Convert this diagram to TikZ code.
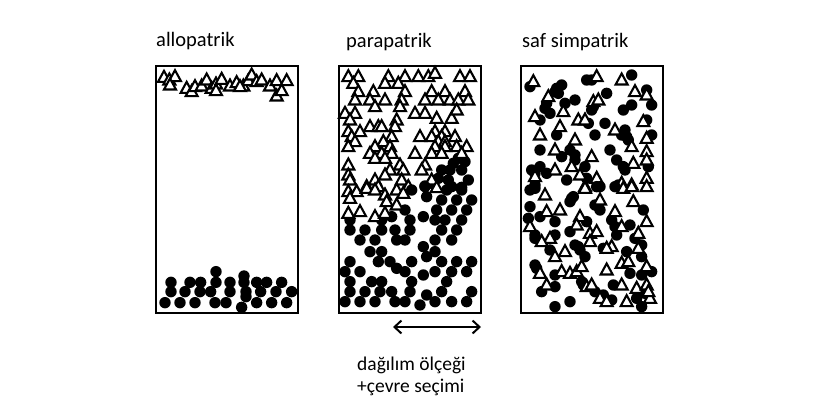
\documentclass[tikz,border=0pt]{standalone}
\usepackage{fontspec}
\setmainfont{Carlito}
\usetikzlibrary{arrows.meta}
\begin{document}
\begin{tikzpicture}[x=1pt, y=-1pt,
        box/.style={rectangle, draw, line width=2pt, minimum width=142pt, minimum height=247pt, inner sep=0pt},
        caption/.style={anchor=base west, inner sep=0pt, font=\fontsize{20.5}{22.5}\selectfont},
        note/.style={anchor=base west, inner sep=0pt, font=\fontsize{19.5}{22.5}\selectfont},
        tri/.style={draw, fill=white, line width=2.1pt, line join=miter},
        dot/.style={fill=black},
        arrow/.style={{Straight Barb[length=7pt,width=13pt]}-{Straight Barb[length=7pt,width=13pt]}, line width=2pt}
    ]
        \useasboundingbox (0,0) rectangle (825,416);

        \node[box] (allo) at (227,189.5) {};
        \node[box] (para) at (410,189.5) {};
        \node[box] (saf) at (592,189.5) {};

        \node[caption] (allo-t) at (156,46) {allopatrik};
        \node[caption] (para-t) at (346,47) {parapatrik};
        \node[caption] (saf-t) at (522,47) {saf simpatrik};

        \coordinate (scale-l) at (393,327);
        \coordinate (scale-r) at (481,327);
        \draw[arrow] (scale-l) -- (scale-r);
        \node[note] (scale-t1) at (357,370) {dağılım ölçeği};
        \node[note] (scale-t2) at (357,392.5) {+çevre seçimi};

        % allopatrik
        \begin{scope}[shift={(140,250)}, x=0.3333pt, y=-0.3333pt]
            \foreach \x/\y in {75/158, 120/158, 165/158, 225/158, 258/158, 305/172, 350/158, 395/158, 440/158,
                93/125, 135/125, 180/125, 212/125, 270/125, 318/125, 362/125, 408/125, 455/125,
                93/97, 150/97, 182/97, 228/97, 270/97, 312/97, 350/97, 380/97, 425/97,
                228/65, 312/78, 318/140}
                \fill[dot] (\x,\y) circle[radius=5.7pt];
        \end{scope}
        \begin{scope}[shift={(140,20)}, x=0.3333pt, y=-0.3333pt]
            \foreach \x/\y in {72/172, 88/180, 105/170, 90/195, 140/205, 155/215, 165/200, 185/198, 200/180,
                215/205, 228/192, 245/178, 270/198, 290/188, 310/198, 325/182, 335/165, 350/185, 365/180,
                390/198, 410/182, 410/228, 425/212, 440/182, 228/212, 300/200}
                \draw[tri] (\x,\y) +(0pt,6.5pt) -- +(-6pt,-4.5pt) -- +(6pt,-4.5pt) -- cycle;
        \end{scope}

        % parapatrik
        \begin{scope}[shift={(335,60)}, x=0.3333pt, y=-0.3333pt]
            \foreach \x/\y in {370/295, 355/310, 390/305, 320/330, 345/330, 380/330, 310/355, 340/360,
                400/360, 270/378, 350/380, 380/382, 290/370}
                \fill[dot] (\x,\y) circle[radius=5.7pt];
            \foreach \x/\y in {40/50, 70/50, 160/50, 210/50, 250/50, 280/50, 300/40, 375/50, 405/50,
                55/70, 150/70, 190/70,
                70/95, 115/95, 210/95, 290/95, 330/95, 390/95,
                60/120, 105/120, 150/120, 200/120, 270/120, 310/120, 345/120, 370/120, 400/120,
                120/140, 195/140,
                30/160, 60/160, 240/160, 270/160, 305/175, 350/175, 365/150,
                45/180, 185/180,
                105/200, 130/200, 140/200, 180/200,
                40/215, 75/215, 300/215, 330/215,
                50/230, 170/230, 255/230, 290/230, 320/230, 360/230,
                60/245, 145/245, 310/245, 330/245,
                40/260, 120/260, 165/260, 300/260, 330/260, 365/260, 395/260,
                105/280, 140/280, 170/280, 240/280, 290/280, 320/280, 380/280,
                120/295, 150/295,
                40/315, 195/315, 270/315,
                165/330, 205/330, 260/330,
                40/345, 150/345,
                45/360, 120/360, 200/360, 290/360,
                95/380, 130/380, 220/380}
                \draw[tri] (\x,\y) +(0pt,6.5pt) -- +(-6pt,-4.5pt) -- +(6pt,-4.5pt) -- cycle;
        \end{scope}
        \begin{scope}[shift={(335,185)}, x=0.3333pt, y=-0.3333pt]
            \foreach \x/\y in {230/15, 270/5, 335/15, 380/15,
                275/35, 320/45, 365/45, 410/45,
                210/75, 305/75, 350/75, 395/75,
                265/95, 170/95,
                45/105, 140/105, 225/105, 300/105, 330/105, 380/105,
                45/135, 90/135, 140/135, 180/135, 225/135, 320/135, 365/135,
                75/165, 120/165, 185/165, 210/165, 300/165, 350/165,
                265/185, 105/200, 140/200, 300/200, 275/215,
                45/230, 130/230, 165/230, 230/230, 320/230, 365/230, 410/230,
                185/250,
                30/260, 75/260, 210/260, 300/260, 350/260, 395/260, 265/270,
                45/290, 110/290, 140/290, 230/290, 335/290,
                45/320, 90/320, 135/320, 170/320, 225/320, 320/320, 410/320, 275/330,
                30/350, 75/350, 120/350, 180/350, 210/350, 300/350, 350/350, 395/350, 255/360}
                \fill[dot] (\x,\y) circle[radius=5.7pt];
            \foreach \x/\y in {40/20, 65/20, 95/10, 120/15, 150/30, 185/15, 205/25, 45/40, 155/50,
                185/60, 40/85, 75/80, 120/95, 150/85, 305/8}
                \draw[tri] (\x,\y) +(0pt,6.5pt) -- +(-6pt,-4.5pt) -- +(6pt,-4.5pt) -- cycle;
        \end{scope}

        % saf simpatrik
        \begin{scope}[shift={(515,60)}, x=0.3333pt, y=-0.3333pt]
            \foreach \x/\y in {45/80, 140/75, 120/95, 130/100, 215/60, 230/60, 350/45, 395/90, 410/135,
                275/100, 95/130, 150/130, 180/120, 325/150, 350/135, 230/150, 105/160, 75/180,
                220/190, 270/190, 395/180, 125/225, 240/225, 330/210, 335/230, 410/225, 340/240,
                75/270, 165/270, 140/290, 285/270, 305/300, 180/300, 325/320, 210/320, 50/330,
                75/320, 95/340, 400/320, 155/360, 215/355, 310/375, 60/375,
                125/85, 90/145, 235/140, 320/225, 180/285, 330/330, 60/340}
                \fill[dot] (\x,\y) circle[radius=5.7pt];
            \foreach \x/\y in {55/65, 100/110, 245/50, 320/60, 360/95, 395/105, 60/170, 145/155,
                235/125, 250/120, 190/180, 210/180, 135/200, 75/225, 300/210, 385/185, 395/235,
                180/240, 120/270, 350/260, 395/275, 395/300, 230/290, 170/320, 355/310, 120/330,
                60/350, 195/345, 245/355, 320/370, 350/375, 395/355, 210/380}
                \draw[tri] (\x,\y) +(0pt,6.5pt) -- +(-6pt,-4.5pt) -- +(6pt,-4.5pt) -- cycle;
        \end{scope}
        \begin{scope}[shift={(515,185)}, x=0.3333pt, y=-0.3333pt]
            \foreach \x/\y in {45/15, 60/10, 175/35, 165/50, 245/5, 300/5, 45/65, 75/95, 120/110,
                240/60, 255/75, 290/105, 300/125, 345/120, 385/75, 40/100, 60/150, 120/150,
                165/140, 215/110, 305/150, 360/160, 380/180, 180/180, 195/195, 210/215, 105/195,
                265/190, 335/200, 380/215, 60/240, 120/270, 200/290, 295/300, 345/265, 380/270,
                410/260, 80/320, 120/305, 240/320, 290/345, 265/330, 365/340, 390/325, 120/365,
                165/350, 380/365, 255/5, 170/40, 250/65, 60/160, 190/185, 65/250, 205/300}
                \fill[dot] (\x,\y) circle[radius=5.7pt];
            \foreach \x/\y in {90/30, 210/10, 325/10, 350/5, 395/5, 255/45, 355/50, 95/80, 135/75,
                300/80, 45/125, 195/95, 185/120, 320/125, 395/110, 225/145, 245/140, 105/160,
                80/170, 370/145, 225/170, 150/200, 120/215, 290/185, 275/190, 370/190, 320/235,
                340/230, 395/245, 75/265, 140/260, 165/265, 185/260, 200/245, 275/255, 95/300,
                215/305, 230/300, 320/300, 365/310, 395/300, 405/340, 255/340, 275/350, 335/350,
                400/320}
                \draw[tri] (\x,\y) +(0pt,6.5pt) -- +(-6pt,-4.5pt) -- +(6pt,-4.5pt) -- cycle;
        \end{scope}
    \end{tikzpicture}
\end{document}
